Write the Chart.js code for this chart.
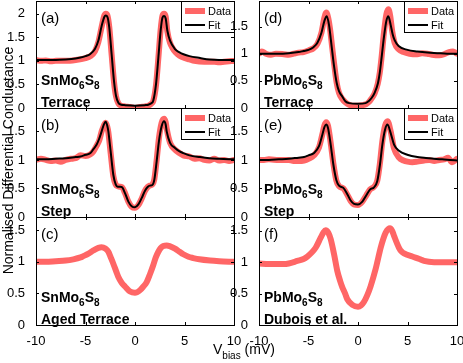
<!DOCTYPE html>
<html>
<head>
<meta charset="utf-8">
<script src="https://cdn.jsdelivr.net/npm/chart.js@4"></script>
<style>
  body { margin: 0; background: #fff; }
  #fig { position: relative; width: 463px; height: 363px; background: #fff; }
  #fig canvas { position: absolute; left: 0; top: 0; }
</style>
</head>
<body>
<div id="fig"></div>
<script>
// ---- data (V in mV, normalised conductance) ----
const xTicks = [-10, -5, 0, 5, 10];

// (a) SnMo6S8 terrace
const vDataA = [-10,-9.5,-9,-8.5,-8,-7,-6,-5,-4.5,-4.05,-3.7,-3.37,-3.1,-2.95,-2.78,-2.6,-2.36,-2.12,-1.92,-1.68,-1.4,-1,-0.5,0,0.5,1,1.35,1.65,1.85,2.12,2.36,2.59,2.78,2.93,3.1,3.27,3.54,3.8,4.1,4.5,5,5.5,6,7,8,8.5,9,9.5,10];
const dataA  = [1.02,1.0,1.01,0.99,1.0,1.0,1.02,1.06,1.1,1.2,1.4,1.72,1.96,2.0,1.96,1.72,1.13,0.55,0.25,0.1,0.05,0.035,0.02,0.0,0.02,0.035,0.05,0.09,0.15,0.48,1.06,1.66,1.96,2.0,1.94,1.62,1.38,1.27,1.18,1.11,1.06,1.03,1.0,0.98,0.98,0.97,0.98,0.99,1.0];
const vFitA  = [-10,-9,-8,-7,-6,-5.5,-5,-4.55,-4.05,-3.7,-3.37,-3.1,-2.95,-2.78,-2.6,-2.36,-2.12,-1.92,-1.68,-1.4,-1,0,1,1.35,1.65,1.85,2.12,2.36,2.59,2.78,2.93,3.1,3.27,3.54,4.04,4.5,4.9,5.5,6.57,7.5,8.5,10];
const fitA   = [1.02,1.02,1.02,1.03,1.05,1.07,1.10,1.14,1.25,1.43,1.74,1.93,1.96,1.93,1.71,1.14,0.57,0.26,0.11,0.07,0.06,0.05,0.06,0.07,0.1,0.16,0.5,1.07,1.64,1.92,1.95,1.9,1.64,1.43,1.25,1.18,1.14,1.1,1.06,1.03,1.02,1.02];

// (b) SnMo6S8 step
const vDataB = [-10,-9.5,-9,-8.5,-8,-7.5,-7,-6.5,-6,-5.5,-5,-4.5,-4.2,-3.87,-3.6,-3.37,-3.15,-2.96,-2.8,-2.69,-2.46,-2.19,-1.95,-1.75,-1.5,-1.3,-1.01,-0.67,-0.34,0,0.34,0.67,1.01,1.3,1.5,1.75,1.95,2.19,2.42,2.69,2.93,3.1,3.2,3.54,4.04,4.5,4.88,5.5,6,6.5,7,7.5,8,8.5,9,9.5,10];
const dataB  = [1.0,1.02,1.0,0.98,0.99,0.97,1.0,1.02,1.03,1.08,1.07,1.1,1.15,1.25,1.35,1.5,1.6,1.65,1.58,1.48,1.12,0.72,0.57,0.54,0.53,0.52,0.42,0.27,0.18,0.16,0.21,0.32,0.46,0.53,0.55,0.57,0.66,1.0,1.38,1.65,1.72,1.66,1.55,1.3,1.18,1.12,1.08,1.06,1.02,1.03,1.0,0.99,1.02,0.99,1.0,0.98,1.0];
const vFitB  = [-10,-9,-8,-7,-6,-5.5,-5,-4.5,-4.2,-3.87,-3.6,-3.37,-3.15,-2.96,-2.8,-2.69,-2.46,-2.19,-1.95,-1.75,-1.5,-1.3,-1.01,-0.67,-0.34,0,0.34,0.67,1.01,1.3,1.5,1.75,1.95,2.19,2.42,2.69,2.93,3.1,3.2,3.54,4.04,4.5,4.88,5.5,6.57,7.5,8.5,10];
const fitB   = [1.01,1.01,1.02,1.03,1.05,1.06,1.09,1.12,1.19,1.27,1.38,1.5,1.62,1.67,1.6,1.5,1.15,0.74,0.57,0.53,0.53,0.52,0.42,0.27,0.19,0.17,0.22,0.33,0.46,0.53,0.55,0.56,0.65,0.98,1.33,1.59,1.68,1.62,1.5,1.3,1.21,1.15,1.12,1.08,1.05,1.03,1.02,1.01];

// (c) SnMo6S8 aged terrace
const vDataC = [-10,-9,-8,-7,-6.23,-5.5,-5.22,-4.7,-4.2,-3.7,-3.37,-3.0,-2.69,-2.45,-2.19,-1.9,-1.68,-1.35,-1.01,-0.5,0,0.5,0.85,1.18,1.5,1.85,2.1,2.36,2.6,2.86,3.2,3.5,4.04,4.5,4.88,5.4,5.89,6.5,7.58,8.5,10];
const dataC  = [1.0,1.0,1.01,1.02,1.04,1.07,1.09,1.13,1.18,1.22,1.23,1.21,1.16,1.07,0.97,0.85,0.76,0.67,0.61,0.53,0.51,0.55,0.61,0.68,0.8,0.95,1.07,1.16,1.22,1.25,1.26,1.25,1.21,1.16,1.12,1.08,1.06,1.04,1.02,1.01,1.0];

// (d) PbMo6S8 terrace
const vDataD = [-10,-9.7,-9.3,-8.8,-8.3,-7.5,-7,-6.5,-6,-5.5,-5,-4.5,-4.1,-3.7,-3.4,-3.2,-3.0,-2.8,-2.6,-2.4,-2.15,-1.92,-1.6,-1.25,-0.9,-0.4,0,0.4,0.8,1.1,1.35,1.68,2.0,2.2,2.36,2.63,2.86,3.06,3.25,3.45,3.7,4.1,4.6,5.2,6,6.5,7,7.5,8.2,8.7,9.2,9.6,10];
const dataD  = [1.0,1.04,1.0,0.98,1.0,0.99,0.98,1.0,1.02,1.03,1.06,1.1,1.18,1.38,1.66,1.76,1.65,1.42,1.1,0.8,0.46,0.28,0.17,0.1,0.06,0.04,0.04,0.05,0.07,0.11,0.17,0.27,0.45,0.65,0.9,1.4,1.72,1.82,1.7,1.42,1.2,1.08,1.03,1.0,0.99,1.01,1.0,0.98,0.97,0.99,1.03,1.04,1.0];
const vFitD  = [-10,-9,-8,-7,-6,-5.5,-5,-4.5,-4.1,-3.7,-3.4,-3.16,-2.93,-2.66,-2.42,-2.15,-1.92,-1.58,-1.25,-0.9,0,0.77,1.1,1.35,1.68,2.02,2.2,2.36,2.63,2.86,3.06,3.3,3.5,3.7,4.1,5,6,7,8,9,10];
const fitD   = [1.0,1.0,1.0,1.01,1.03,1.05,1.07,1.12,1.2,1.38,1.6,1.69,1.53,1.13,0.77,0.46,0.31,0.21,0.12,0.09,0.08,0.09,0.13,0.18,0.28,0.46,0.65,0.89,1.32,1.6,1.69,1.53,1.36,1.25,1.14,1.07,1.04,1.02,1.01,1.0,1.0];

// (e) PbMo6S8 step
const vDataE = [-10,-9.5,-9,-8,-7,-6.5,-6,-5.45,-5,-4.44,-3.94,-3.6,-3.4,-3.22,-3.03,-2.76,-2.49,-2.19,-1.92,-1.48,-1.08,-0.74,-0.4,0,0.44,0.84,1.21,1.62,1.95,2.22,2.46,2.73,2.98,3.3,3.64,4.14,4.6,5,5.5,6,6.67,7.2,7.7,8.2,8.7,9.1,9.5,10];
const dataE  = [1.0,1.0,1.01,1.0,1.0,0.98,0.98,0.99,1.02,1.08,1.22,1.45,1.6,1.66,1.6,1.3,0.94,0.64,0.54,0.5,0.39,0.28,0.22,0.21,0.27,0.38,0.48,0.53,0.64,0.95,1.33,1.6,1.68,1.5,1.2,1.04,0.99,0.97,0.96,0.97,0.99,1.0,0.98,1.0,1.01,1.04,0.96,1.02];
const vFitE  = [-10,-9,-8,-7,-6,-5.45,-5,-4.44,-3.94,-3.6,-3.4,-3.22,-3.03,-2.76,-2.49,-2.19,-1.92,-1.48,-1.08,-0.74,-0.4,0,0.44,0.84,1.21,1.62,1.95,2.22,2.46,2.73,2.98,3.3,3.64,4.14,4.98,6,6.67,7.68,8.5,9.3,10];
const fitE   = [1.0,1.0,1.01,1.02,1.04,1.05,1.08,1.12,1.24,1.44,1.57,1.62,1.56,1.27,0.92,0.65,0.55,0.51,0.4,0.29,0.23,0.22,0.27,0.38,0.48,0.52,0.63,0.92,1.27,1.53,1.62,1.47,1.27,1.16,1.09,1.05,1.04,1.02,1.01,1.0,0.99];

// (f) PbMo6S8, Dubois et al.
const vDataF = [-10,-9,-8,-7.47,-7,-6.13,-5.5,-5.12,-4.7,-4.28,-3.77,-3.5,-3.27,-3.0,-2.76,-2.42,-2.09,-1.8,-1.58,-1.3,-1.08,-0.57,0,0.3,0.61,0.95,1.28,1.78,2.29,2.55,2.79,3.23,3.45,3.64,4.14,4.4,4.65,5.49,6.2,6.67,7.68,8.5,10];
const dataF  = [0.98,0.97,0.97,0.97,0.98,1.02,1.05,1.09,1.15,1.23,1.39,1.47,1.51,1.47,1.37,1.13,0.86,0.7,0.6,0.5,0.41,0.32,0.29,0.31,0.37,0.48,0.62,0.89,1.23,1.37,1.47,1.54,1.5,1.42,1.23,1.17,1.14,1.09,1.05,1.02,1.0,1.0,1.0];

// ---- layout ----
const W = 463, H = 363;
const FONT = '"Liberation Sans", Arial, sans-serif';
const RED = 'rgb(255,102,102)';
Chart.defaults.font.family = FONT;
Chart.defaults.color = '#000';

const panels = [
  { L: 36,  R: 234, T: 1,   B: 108, ymax: 2.27, yTicks: [0,0.5,1,1.5,2], vData: vDataA, data: dataA, vFit: vFitA, fit: fitA, tag: '(a)', name: ['SnMo','6','S','8'], desc: 'Terrace' },
  { L: 36,  R: 234, T: 108, B: 217, ymax: 1.91, yTicks: [0,0.5,1,1.5],   vData: vDataB, data: dataB, vFit: vFitB, fit: fitB, tag: '(b)', name: ['SnMo','6','S','8'], desc: 'Step' },
  { L: 36,  R: 234, T: 217, B: 325, ymax: 1.71, yTicks: [0,0.5,1,1.5],   vData: vDataC, data: dataC, tag: '(c)', name: ['SnMo','6','S','8'], desc: 'Aged Terrace', xLabels: true },
  { L: 259, R: 457, T: 1,   B: 108, ymax: 1.97, yTicks: [0,0.5,1,1.5],   vData: vDataD, data: dataD, vFit: vFitD, fit: fitD, tag: '(d)', name: ['PbMo','6','S','8'], desc: 'Terrace' },
  { L: 259, R: 457, T: 108, B: 217, ymax: 1.91, yTicks: [0,0.5,1,1.5],   vData: vDataE, data: dataE, vFit: vFitE, fit: fitE, tag: '(e)', name: ['PbMo','6','S','8'], desc: 'Step' },
  { L: 259, R: 457, T: 217, B: 325, ymax: 1.72, yTicks: [0,0.5,1,1.5],   vData: vDataF, data: dataF, tag: '(f)', name: ['PbMo','6','S','8'], desc: 'Dubois et al.', xLabels: true, figureText: true }
];

const toXY = (xs, ys) => xs.map((x, i) => ({ x: x, y: ys[i] }));

// box, inward ticks, panel texts and legend
const panelPlugin = {
  id: 'panelDecor',
  afterDraw(chart) {
    const p = chart.config.options.plugins.panelDecor;
    const { ctx, chartArea: a, scales: { x, y } } = chart;
    ctx.save();
    ctx.strokeStyle = '#000';
    ctx.lineWidth = 1;
    ctx.strokeRect(a.left + 0.5, a.top + 0.5, a.right - a.left, a.bottom - a.top);
    ctx.beginPath();
    xTicks.forEach(v => {
      const px = Math.round(x.getPixelForValue(v)) + 0.5;
      ctx.moveTo(px, a.bottom); ctx.lineTo(px, a.bottom - 3);
      ctx.moveTo(px, a.top); ctx.lineTo(px, a.top + 3);
    });
    p.yTicks.forEach(v => {
      const py = Math.round(y.getPixelForValue(v)) + 0.5;
      ctx.moveTo(a.left, py); ctx.lineTo(a.left + 3, py);
      ctx.moveTo(a.right, py); ctx.lineTo(a.right - 3, py);
    });
    ctx.stroke();

    // texts
    ctx.fillStyle = '#000';
    ctx.textBaseline = 'alphabetic';
    ctx.textAlign = 'left';
    ctx.font = '15px ' + FONT;
    ctx.fillText(p.tag, a.left + 5, a.top + 22);
    let tx = a.left + 5;
    const by = a.bottom - 23;
    p.name.forEach((t, i) => {
      const sub = i % 2 === 1;
      ctx.font = 'bold ' + (sub ? 10 : 14) + 'px ' + FONT;
      ctx.fillText(t, tx, sub ? by + 4 : by);
      tx += ctx.measureText(t).width;
    });
    ctx.font = 'bold 14px ' + FONT;
    ctx.fillText(p.desc, a.left + 5, a.bottom - 1.5);

    // legend
    if (p.fit) {
      const lw = 53, lh = 31;
      const lx = a.right - lw, ly = a.top;
      ctx.fillStyle = '#fff';
      ctx.fillRect(lx, ly, lw, lh);
      ctx.strokeStyle = '#000'; ctx.lineWidth = 1;
      ctx.strokeRect(lx + 0.5, ly + 0.5, lw, lh);
      ctx.lineCap = 'butt';
      const rows = [['Data', RED, 6, ly + 10], ['Fit', '#000', 2, ly + 24]];
      rows.forEach(([label, col, w, ry]) => {
        ctx.strokeStyle = col; ctx.lineWidth = w;
        ctx.beginPath(); ctx.moveTo(lx + 4, ry); ctx.lineTo(lx + 24, ry); ctx.stroke();
        ctx.fillStyle = '#000';
        ctx.font = '11px ' + FONT;
        ctx.textBaseline = 'middle';
        ctx.fillText(label, lx + 27, ry + 0.5);
      });
    }

    // figure axis titles
    if (p.figureText) {
      ctx.fillStyle = '#000';
      ctx.textBaseline = 'alphabetic';
      ctx.save();
      ctx.translate(13, 160.5);
      ctx.rotate(-Math.PI / 2);
      ctx.textAlign = 'center';
      ctx.font = '14px ' + FONT;
      ctx.fillText('Normalised Differential Conductance', 0, 0);
      ctx.restore();
      ctx.textAlign = 'left';
      let vx = 213;
      ctx.font = '14px ' + FONT;
      ctx.fillText('V', vx, 354); vx += ctx.measureText('V').width;
      ctx.font = '10px ' + FONT;
      ctx.fillText('bias', vx, 358.5); vx += ctx.measureText('bias').width;
      ctx.font = '14px ' + FONT;
      ctx.fillText(' (mV)', vx, 354);
    }
    ctx.restore();
  }
};

const fig = document.getElementById('fig');
panels.forEach(p => {
  const canvas = document.createElement('canvas');
  canvas.width = W; canvas.height = H;
  canvas.style.width = W + 'px'; canvas.style.height = H + 'px';
  fig.appendChild(canvas);

  const datasets = [];
  if (p.fit) {
    datasets.push({ data: toXY(p.vFit, p.fit), borderColor: '#000', borderWidth: 2, pointRadius: 0,
                    cubicInterpolationMode: 'monotone', clip: 0, fill: false });
  }
  datasets.push({ data: toXY(p.vData, p.data), borderColor: RED, borderWidth: 6, pointRadius: 0,
                  cubicInterpolationMode: 'monotone', clip: 0, fill: false,
                  borderCapStyle: 'round', borderJoinStyle: 'round' });

  new Chart(canvas.getContext('2d'), {
    type: 'line',
    data: { datasets: datasets },
    options: {
      responsive: false,
      animation: false,
      events: [],
      layout: { padding: { left: p.L - 36, right: W - p.R, top: p.T, bottom: p.xLabels ? 0 : H - p.B } },
      plugins: { legend: { display: false }, tooltip: { enabled: false }, panelDecor: p },
      scales: {
        x: {
          type: 'linear', min: -10, max: 10,
          display: !!p.xLabels,
          grid: { display: false }, border: { display: false },
          afterBuildTicks: s => { s.ticks = xTicks.map(v => ({ value: v })); },
          afterFit: s => {
            s.paddingLeft = 0; s.paddingRight = 0;
            s.height = p.xLabels ? H - p.B : 0;
          },
          ticks: { padding: 1, font: { size: 13 }, maxRotation: 0, autoSkip: false, callback: v => String(v) }
        },
        y: {
          type: 'linear', min: 0, max: p.ymax,
          grid: { display: false }, border: { display: false },
          afterBuildTicks: s => { s.ticks = p.yTicks.map(v => ({ value: v })); },
          afterFit: s => { s.width = 36; s.paddingTop = 0; s.paddingBottom = 0; },
          ticks: { padding: 3, font: { size: 13 }, callback: v => String(v) }
        }
      }
    },
    plugins: [panelPlugin]
  });
});
</script>
</body>
</html>
